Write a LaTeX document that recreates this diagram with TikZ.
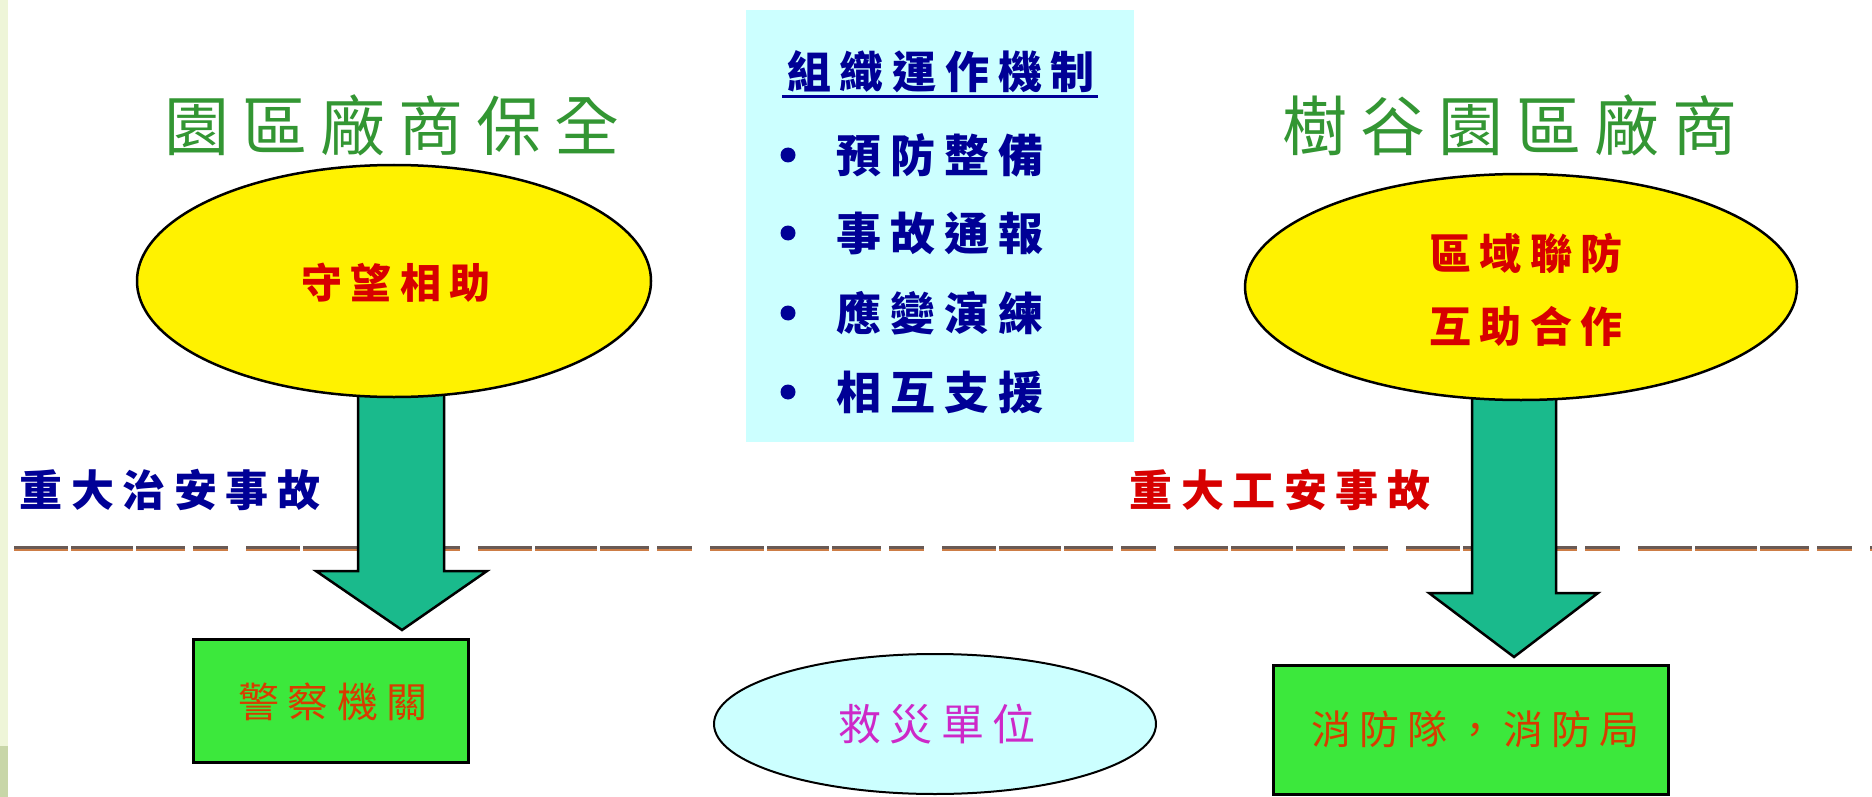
\documentclass[tikz,border=0pt]{standalone}
\usepackage{fontspec}
\usetikzlibrary{shapes.geometric}
\newfontfamily\cj[LetterSpace=20]{Noto Sans CJK TC}
\definecolor{titlegreen}{RGB}{51,150,51}
\definecolor{navy}{RGB}{0,0,150}
\definecolor{redtxt}{RGB}{215,0,0}
\definecolor{boxtxt}{RGB}{215,60,0}
\definecolor{magtxt}{RGB}{205,40,200}
\definecolor{teal}{RGB}{26,186,140}
\definecolor{boxgreen}{RGB}{60,232,60}
\definecolor{palecyan}{RGB}{204,255,255}
\definecolor{dashdark}{RGB}{105,90,85}
\definecolor{dashorange}{RGB}{205,125,70}
\definecolor{stripgreen}{RGB}{238,245,216}
\definecolor{stripdark}{RGB}{200,214,168}
\newcommand{\fs}[1]{\fontsize{#1}{#1}\selectfont}
\tikzset{
  txt/.style={inner sep=0pt, font=\cj},
  yellowell/.style={ellipse, draw=black, line width=2.5pt, fill=yellow, inner sep=0pt},
  greenbox/.style={draw=black, line width=3pt, fill=boxgreen, inner sep=0pt},
  bigarrow/.style={draw=black, line width=2.5pt, fill=teal, line join=miter},
  sepline/.style={line width=2.6pt, dash pattern=on 54pt off 3pt on 62pt off 3pt on 49pt off 8pt on 35pt off 18pt}
}
\begin{document}
\begin{tikzpicture}[x=1pt,y=-1pt]
\useasboundingbox (0,0) rectangle (1872,797);
\fill[white] (0,0) rectangle (1872,797);
% left strip
\fill[stripgreen] (0,0) rectangle (8,797);
\fill[stripdark] (0,746) rectangle (8,797);
% centre box
\node[draw=none, fill=palecyan, minimum width=388pt, minimum height=432pt, inner sep=0pt] (mech) at (940,226) {};
\node[txt, text=navy, font=\cj\bfseries\fs{44}] (mechhead) at (941,72) {組織運作機制};
\draw[navy, line width=3pt] (782,97) -- (1098,97);
\foreach \yy/\tt [count=\i] in {155/預防整備, 233/事故通報, 313/應變演練, 392/相互支援}{
  \fill[navy] (788,\yy) circle (7.5pt);
  \node[txt, text=navy, font=\cj\bfseries\fs{45}, anchor=west] (item\i) at (836,\yy) {\tt};
}
% titles
\node[txt, text=titlegreen, font=\cj\fs{65}] (ltitle) at (392,125) {園區廠商保全};
\node[txt, text=titlegreen, font=\cj\fs{65}] (rtitle) at (1510,125) {樹谷園區廠商};
% dashed separator
\draw[sepline, dashdark] (14,547.5) -- (1872,547.5);
\draw[sepline, dashorange] (14,550) -- (1872,550);
% incident labels
\node[txt, text=navy, font=\cj\bfseries\fs{43}] (lincident) at (170,490) {重大治安事故};
\node[txt, text=redtxt, font=\cj\bfseries\fs{43}] (rincident) at (1280,490) {重大工安事故};
% arrows
\coordinate (ltip) at (402,630);
\coordinate (rtip) at (1514,657);
\draw[bigarrow] (358,385) -- (358,571) -- (316,571) -- (ltip) -- (487,571) -- (444,571) -- (444,385) -- cycle;
\draw[bigarrow] (1472,385) -- (1472,593) -- (1429,593) -- (rtip) -- (1598,593) -- (1556,593) -- (1556,385) -- cycle;
% ellipses
\node[yellowell, minimum width=514pt, minimum height=232pt] (lell) at (394,281) {};
\node[txt, text=redtxt, font=\cj\bfseries\fs{41}] (lelltxt) at (396,283) {守望相助};
\node[yellowell, minimum width=552pt, minimum height=226pt] (rell) at (1521,287) {};
\node[txt, text=redtxt, font=\cj\bfseries\fs{42}] (rell1) at (1526,253) {區域聯防};
\node[txt, text=redtxt, font=\cj\bfseries\fs{42}] (rell2) at (1526,326) {互助合作};
% boxes
\node[greenbox, minimum width=275pt, minimum height=123pt] (police) at (330.5,700.5) {};
\node[txt, text=boxtxt, font=\cj\fs{41}] (policetxt) at (333,702) {警察機關};
\node[greenbox, minimum width=395pt, minimum height=129pt] (fire) at (1470.5,729.5) {};
\node[txt, text=boxtxt, font=\cj\fs{40}] (firetxt) at (1475,729) {消防隊，消防局};
\node[ellipse, draw=black, line width=2pt, fill=palecyan, minimum width=442pt, minimum height=140pt, inner sep=0pt] (rescue) at (935,724) {};
\node[txt, text=magtxt, font=\cj\fs{43}] (rescuetxt) at (937,724) {救災單位};
\end{tikzpicture}
\end{document}
